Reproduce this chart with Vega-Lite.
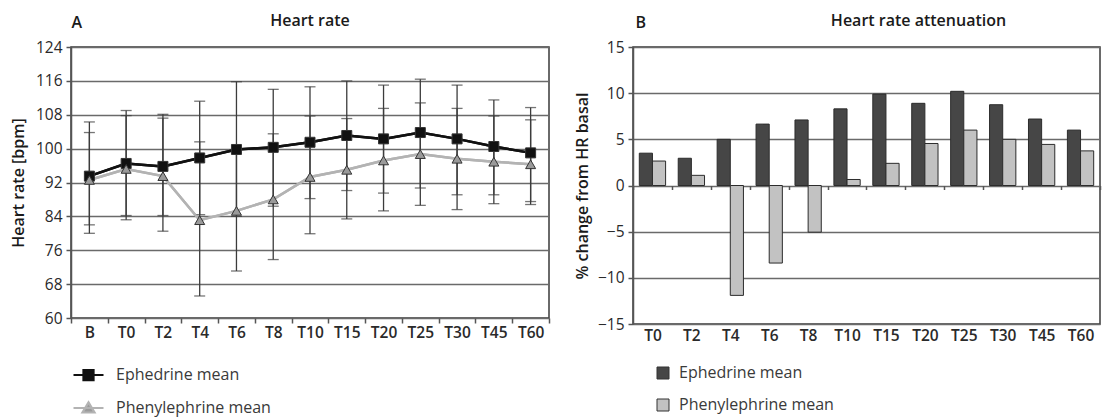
{
 "$schema": "https://vega.github.io/schema/vega-lite/v6.json",
 "background": "white",
 "padding": {"left": 9, "top": 12, "right": 0, "bottom": 0},
 "spacing": 84,
 "bounds": "flush",
 "resolve": {"scale": {"fill": "independent", "stroke": "independent", "shape": "independent"}, "legend": {"fill": "independent", "stroke": "independent", "shape": "independent"}},
 "config": {
  "font": "Open Sans",
  "view": {"stroke": "#3a3a3a", "strokeWidth": 1.5},
  "axis": {"labelFont": "Open Sans", "labelFontSize": 15.5, "labelColor": "#2a2a2a", "titleFont": "Open Sans", "titleFontSize": 16, "titleFontWeight": 600, "titleColor": "#1a1a1a", "gridColor": "#6a6a6a", "gridWidth": 1.5, "gridOpacity": 1, "domainColor": "#555555", "domainWidth": 1.5, "tickColor": "#555555", "tickWidth": 1.5},
  "title": {"font": "Open Sans", "fontSize": 16, "fontWeight": 600, "color": "#1a1a1a"},
  "legend": {"labelFont": "Open Sans", "labelFontSize": 16, "labelColor": "#3a3a3a"}
 },
 "datasets": {
  "hr": [
   {"t": "B", "drug": "Ephedrine mean", "mean": 93.5, "lo": 80.0, "hi": 106.3},
   {"t": "T0", "drug": "Ephedrine mean", "mean": 96.5, "lo": 84.2, "hi": 109.0},
   {"t": "T2", "drug": "Ephedrine mean", "mean": 95.8, "lo": 84.2, "hi": 108.1},
   {"t": "T4", "drug": "Ephedrine mean", "mean": 97.8, "lo": 84.4, "hi": 111.2},
   {"t": "T6", "drug": "Ephedrine mean", "mean": 99.8, "lo": 84.0, "hi": 115.8},
   {"t": "T8", "drug": "Ephedrine mean", "mean": 100.3, "lo": 86.4, "hi": 114.0},
   {"t": "T10", "drug": "Ephedrine mean", "mean": 101.5, "lo": 88.2, "hi": 114.6},
   {"t": "T15", "drug": "Ephedrine mean", "mean": 103.1, "lo": 90.1, "hi": 116.0},
   {"t": "T20", "drug": "Ephedrine mean", "mean": 102.3, "lo": 89.5, "hi": 115.0},
   {"t": "T25", "drug": "Ephedrine mean", "mean": 103.8, "lo": 90.7, "hi": 116.4},
   {"t": "T30", "drug": "Ephedrine mean", "mean": 102.3, "lo": 89.1, "hi": 115.0},
   {"t": "T45", "drug": "Ephedrine mean", "mean": 100.5, "lo": 89.1, "hi": 111.5},
   {"t": "T60", "drug": "Ephedrine mean", "mean": 99.0, "lo": 87.5, "hi": 109.7},
   {"t": "B", "drug": "Phenylephrine mean", "mean": 92.6, "lo": 82.0, "hi": 103.8},
   {"t": "T0", "drug": "Phenylephrine mean", "mean": 95.2, "lo": 83.2, "hi": 107.8},
   {"t": "T2", "drug": "Phenylephrine mean", "mean": 93.5, "lo": 80.5, "hi": 107.2},
   {"t": "T4", "drug": "Phenylephrine mean", "mean": 83.1, "lo": 65.2, "hi": 101.6},
   {"t": "T6", "drug": "Phenylephrine mean", "mean": 85.3, "lo": 71.1, "hi": 99.6},
   {"t": "T8", "drug": "Phenylephrine mean", "mean": 88.0, "lo": 73.8, "hi": 103.5},
   {"t": "T10", "drug": "Phenylephrine mean", "mean": 93.3, "lo": 79.9, "hi": 107.7},
   {"t": "T15", "drug": "Phenylephrine mean", "mean": 95.0, "lo": 83.4, "hi": 107.1},
   {"t": "T20", "drug": "Phenylephrine mean", "mean": 97.2, "lo": 85.3, "hi": 109.5},
   {"t": "T25", "drug": "Phenylephrine mean", "mean": 98.7, "lo": 86.6, "hi": 110.8},
   {"t": "T30", "drug": "Phenylephrine mean", "mean": 97.6, "lo": 85.6, "hi": 109.5},
   {"t": "T45", "drug": "Phenylephrine mean", "mean": 96.9, "lo": 87.0, "hi": 107.7},
   {"t": "T60", "drug": "Phenylephrine mean", "mean": 96.3, "lo": 86.8, "hi": 106.8}
  ],
  "att": [
   {"t": "T0", "drug": "Ephedrine mean", "pct": 3.5},
   {"t": "T2", "drug": "Ephedrine mean", "pct": 2.95},
   {"t": "T4", "drug": "Ephedrine mean", "pct": 5.0},
   {"t": "T6", "drug": "Ephedrine mean", "pct": 6.65},
   {"t": "T8", "drug": "Ephedrine mean", "pct": 7.1},
   {"t": "T10", "drug": "Ephedrine mean", "pct": 8.3},
   {"t": "T15", "drug": "Ephedrine mean", "pct": 9.9},
   {"t": "T20", "drug": "Ephedrine mean", "pct": 8.9},
   {"t": "T25", "drug": "Ephedrine mean", "pct": 10.2},
   {"t": "T30", "drug": "Ephedrine mean", "pct": 8.75},
   {"t": "T45", "drug": "Ephedrine mean", "pct": 7.2},
   {"t": "T60", "drug": "Ephedrine mean", "pct": 6.0},
   {"t": "T0", "drug": "Phenylephrine mean", "pct": 2.65},
   {"t": "T2", "drug": "Phenylephrine mean", "pct": 1.1},
   {"t": "T4", "drug": "Phenylephrine mean", "pct": -11.9},
   {"t": "T6", "drug": "Phenylephrine mean", "pct": -8.4},
   {"t": "T8", "drug": "Phenylephrine mean", "pct": -5.05},
   {"t": "T10", "drug": "Phenylephrine mean", "pct": 0.65},
   {"t": "T15", "drug": "Phenylephrine mean", "pct": 2.4},
   {"t": "T20", "drug": "Phenylephrine mean", "pct": 4.55},
   {"t": "T25", "drug": "Phenylephrine mean", "pct": 6.0},
   {"t": "T30", "drug": "Phenylephrine mean", "pct": 5.0},
   {"t": "T45", "drug": "Phenylephrine mean", "pct": 4.45},
   {"t": "T60", "drug": "Phenylephrine mean", "pct": 3.75}
  ]
 },
 "hconcat": [
  {
   "width": 478,
   "height": 271,
   "title": {"text": "Heart rate", "anchor": "middle", "offset": -15},
   "data": {"name": "hr"},
   "resolve": {"legend": {"shape": "independent", "fill": "independent", "stroke": "independent"}},
   "layer": [
    {
     "mark": {"type": "line", "strokeWidth": 2.5},
     "encoding": {
      "x": {"field": "t", "type": "nominal", "sort": ["B","T0","T2","T4","T6","T8","T10","T15","T20","T25","T30","T45","T60"], "scale": {"type": "band", "paddingInner": 0, "paddingOuter": 0},
        "axis": {"orient": "bottom", "title": "A", "titleX": 0, "titleY": -296, "titleAngle": 0, "titleAlign": "left", "titleBaseline": "middle", "titleFontSize": 16, "titleFontWeight": 600, "labelAngle": 0, "labelFontWeight": 600, "labelFontSize": 15.5, "labelPadding": 2, "tickBand": "extent", "tickSize": 5, "domain": false, "grid": false}},
      "y": {"field": "mean", "type": "quantitative", "scale": {"domain": [60, 124], "nice": false, "zero": false},
        "axis": {"title": "Heart rate [bpm]", "values": [60, 68, 76, 84, 92, 100, 108, 116, 124], "tickCount": 20, "labelOverlap": false, "tickSize": 5, "labelPadding": 4, "titlePadding": 9, "grid": true, "domain": true}},
      "stroke": {"field": "drug", "type": "nominal", "scale": {"domain": ["Ephedrine mean", "Phenylephrine mean"], "range": ["#111111", "#b3b3b3"]},
        "legend": {"orient": "none", "legendX": 8.5, "legendY": 319, "direction": "vertical", "title": null, "padding": 0, "symbolSize": 225, "symbolStrokeWidth": 2.2, "labelFontSize": 16, "labelOffset": 18.5, "rowPadding": 12,
          "encode": {"symbols": {"update": {
            "shape": [{"test": "datum.value === 'Ephedrine mean'", "value": "M-2,0H2M-0.67,-0.67H0.67V0.67H-0.67Z"}, {"value": "M-2,0H2M0,-0.75L0.8,0.6H-0.8Z"}],
            "fill": [{"test": "datum.value === 'Ephedrine mean'", "value": "#111111"}, {"value": "#9a9a9a"}],
            "stroke": [{"test": "datum.value === 'Ephedrine mean'", "value": "#111111"}, {"value": "#a8a8a8"}]
          }}}}},
      "order": {"value": null}
     }
    },
    {
     "mark": {"type": "rule", "color": "#3c3c3c", "strokeWidth": 1.3},
     "encoding": {
      "x": {"field": "t", "type": "nominal", "sort": ["B","T0","T2","T4","T6","T8","T10","T15","T20","T25","T30","T45","T60"], "scale": {"type": "band", "paddingInner": 0, "paddingOuter": 0}},
      "y": {"field": "lo", "type": "quantitative", "scale": {"domain": [60, 124], "nice": false, "zero": false}},
      "y2": {"field": "hi"}
     }
    },
    {
     "mark": {"type": "tick", "color": "#3c3c3c", "thickness": 1.3, "size": 11},
     "encoding": {
      "x": {"field": "t", "type": "nominal", "sort": ["B","T0","T2","T4","T6","T8","T10","T15","T20","T25","T30","T45","T60"], "scale": {"type": "band", "paddingInner": 0, "paddingOuter": 0}},
      "y": {"field": "lo", "type": "quantitative", "scale": {"domain": [60, 124], "nice": false, "zero": false}}
     }
    },
    {
     "mark": {"type": "tick", "color": "#3c3c3c", "thickness": 1.3, "size": 11},
     "encoding": {
      "x": {"field": "t", "type": "nominal", "sort": ["B","T0","T2","T4","T6","T8","T10","T15","T20","T25","T30","T45","T60"], "scale": {"type": "band", "paddingInner": 0, "paddingOuter": 0}},
      "y": {"field": "hi", "type": "quantitative", "scale": {"domain": [60, 124], "nice": false, "zero": false}}
     }
    },
    {
     "mark": {"type": "line", "strokeWidth": 2.5},
     "encoding": {
      "x": {"field": "t", "type": "nominal", "sort": ["B","T0","T2","T4","T6","T8","T10","T15","T20","T25","T30","T45","T60"], "scale": {"type": "band", "paddingInner": 0, "paddingOuter": 0}},
      "y": {"field": "mean", "type": "quantitative", "scale": {"domain": [60, 124], "nice": false, "zero": false}},
      "stroke": {"field": "drug", "type": "nominal", "legend": null},
      "order": {"value": null}
     }
    },
    {
     "mark": {"type": "point", "filled": true, "opacity": 1, "stroke": "#333333", "strokeWidth": 1},
     "encoding": {
      "x": {"field": "t", "type": "nominal", "sort": ["B","T0","T2","T4","T6","T8","T10","T15","T20","T25","T30","T45","T60"], "scale": {"type": "band", "paddingInner": 0, "paddingOuter": 0}},
      "y": {"field": "mean", "type": "quantitative", "scale": {"domain": [60, 124], "nice": false, "zero": false}},
      "shape": {"field": "drug", "type": "nominal", "scale": {"domain": ["Ephedrine mean", "Phenylephrine mean"], "range": ["square", "triangle-up"]}, "legend": null},
      "fill": {"field": "drug", "type": "nominal", "scale": {"domain": ["Ephedrine mean", "Phenylephrine mean"], "range": ["#111111", "#9a9a9a"]}, "legend": null},
      "size": {"value": 100}
     }
    }
   ]
  },
  {
   "width": 467,
   "height": 277,
   "title": {"text": "Heart rate attenuation", "anchor": "middle", "offset": -15, "dx": 52},
   "data": {"name": "att"},
   "mark": {"type": "bar", "stroke": "#2c2c2c", "strokeWidth": 1},
   "encoding": {
    "x": {"field": "t", "type": "nominal", "sort": ["T0","T2","T4","T6","T8","T10","T15","T20","T25","T30","T45","T60"], "scale": {"type": "band", "paddingInner": 0, "paddingOuter": 0},
      "axis": {"orient": "bottom", "offset": -138.5, "domain": false, "grid": false, "ticks": true, "tickBand": "extent", "tickSize": 4, "labelAngle": 0, "labelFontWeight": 600, "labelFontSize": 15.5, "labelPadding": 139, "title": "B", "titleX": 2, "titleY": -163.5, "titleAngle": 0, "titleAlign": "left", "titleBaseline": "middle", "titleFontSize": 16, "titleFontWeight": 600}},
    "xOffset": {"field": "drug", "type": "nominal", "sort": ["Ephedrine mean", "Phenylephrine mean"], "scale": {"paddingInner": 0, "paddingOuter": 0.48}},
    "y": {"field": "pct", "type": "quantitative", "scale": {"domain": [-15, 15], "nice": false},
      "axis": {"title": "% change from HR basal", "values": [-15, -10, -5, 0, 5, 10, 15], "tickCount": 20, "tickSize": 5, "labelPadding": 4, "titlePadding": 7, "grid": true, "domain": true}},
    "fill": {"field": "drug", "type": "nominal", "scale": {"domain": ["Ephedrine mean", "Phenylephrine mean"], "range": ["#464646", "#c2c2c2"]},
      "legend": {"orient": "none", "legendX": 22, "legendY": 318, "direction": "vertical", "title": null, "padding": 0, "symbolType": "square", "symbolSize": 144, "symbolStrokeColor": "#333333", "symbolStrokeWidth": 1, "labelFontSize": 16, "labelOffset": 8, "rowPadding": 16}}
   }
  }
 ]
}
